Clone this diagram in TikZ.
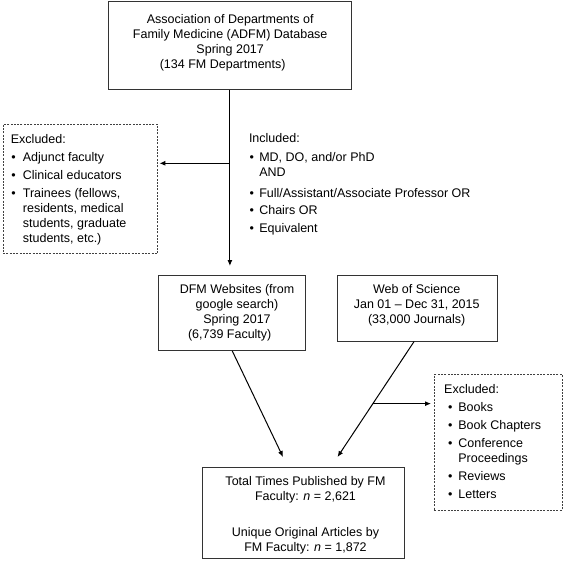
\documentclass[tikz,border=0pt]{standalone}
\usepackage{fontspec}
\setmainfont{Liberation Sans}
\usetikzlibrary{arrows.meta,calc}
\newcommand{\blt}[2]{\makebox[#2][l]{\hspace*{#1}\textbullet}}
\begin{document}
\begin{tikzpicture}[x=1pt,y=-1pt,
  box/.style={draw=black!80, line width=0.8pt, inner sep=0pt, anchor=north west},
  dbox/.style={draw=black!75, line width=0.6pt, dash pattern=on 2pt off 1.3pt, inner sep=0pt, anchor=north west},
  txt/.style={inner sep=0pt, align=center, font=\fontsize{12.5}{15}\selectfont},
  ltxt/.style={inner sep=0pt, align=left, anchor=north west, font=\fontsize{12.5}{15}\selectfont},
  arr/.style={draw=black, line width=1pt, -{Latex[length=6pt,width=5pt]}}]
\useasboundingbox (0,0) rectangle (564,560);

% boxes
\node[box, minimum width=242.4pt, minimum height=88.3pt] (adfm) at (108.3,1) {};
\node[dbox, minimum width=154.6pt, minimum height=129.3pt] (exl) at (2.7,124) {};
\node[box, minimum width=147pt, minimum height=75pt] (dfm) at (158.3,275) {};
\node[box, minimum width=160pt, minimum height=65.7pt] (wos) at (336.7,275) {};
\node[dbox, minimum width=127.7pt, minimum height=136pt] (exr) at (434,374) {};
\node[box, minimum width=202pt, minimum height=91pt] (tot) at (202.3,467) {};

% texts
\node[txt] (adfmt) at (230.2,42.8) {Association of Departments of\\
Family Medicine (ADFM) Database\\
Spring 2017\hspace*{6pt}\\
(134 FM Departments)\hspace*{15pt}};

\node[ltxt] (exlt) at (10.7,134) {Excluded:\\[3pt]
\blt{0.4pt}{12pt}Adjunct faculty\\[3pt]
\blt{0.4pt}{12pt}Clinical educators\\[3pt]
\blt{0.4pt}{12pt}Trainees (fellows,\\
\hspace*{12pt}residents, medical\\
\hspace*{12pt}students, graduate\\
\hspace*{12pt}students, etc.)};

\node[ltxt] (inct) at (248.8,133.5) {Included:\\[3.5pt]
\blt{0.7pt}{10.3pt}MD, DO, and/or PhD\\
\hspace*{10.3pt}AND\\[6pt]
\blt{0.7pt}{10.3pt}Full/Assistant/Associate Professor OR\\[2.5pt]
\blt{0.7pt}{10.3pt}Chairs OR\\[2.5pt]
\blt{0.7pt}{10.3pt}Equivalent};

\node[txt] (dfmt) at (237,313) {DFM Websites (from\\
google search)\\
Spring 2017\\
(6,739 Faculty)\hspace*{14.6pt}};

\node[txt] (wost) at (416.7,305.5) {Web of Science\\
Jan 01 – Dec 31, 2015\\
(33,000 Journals)};

\node[ltxt] (exrt) at (444,384) {Excluded:\\[3pt]
\blt{3.8pt}{14.2pt}Books\\[3pt]
\blt{3.8pt}{14.2pt}Book Chapters\\[3pt]
\blt{3.8pt}{14.2pt}Conference\\
\hspace*{14.2pt}Proceedings\\[3pt]
\blt{3.8pt}{14.2pt}Reviews\\[3pt]
\blt{3.8pt}{14.2pt}Letters};

\node[txt] (tott) at (305.5,515.2) {Total Times Published by FM\\
Faculty: \textit{n} = 2,621\hspace*{11.6pt}\\[20.5pt]
Unique Original Articles by\\
FM Faculty: \textit{n} = 1,872};

% connectors
\draw[arr, shorten >=9pt] (adfm.south) -- (adfm.south |- dfm.north);
\coordinate (j1) at (229.5,163.3);
\draw[arr, shorten >=1.5pt] (j1) -- (j1 -| exl.east);

\coordinate (e1) at (283,457);
\coordinate (e2) at (337.5,457);
\coordinate (s2) at ([xshift=-3pt]wos.south);
\draw[arr] (dfm.south) -- (e1);
\draw[arr] (s2) -- (e2);
\path (s2) -- (e2) coordinate[pos=0.538] (j2);
\draw[arr, shorten >=3pt] (j2) -- (j2 -| exr.west);
\end{tikzpicture}
\end{document}
